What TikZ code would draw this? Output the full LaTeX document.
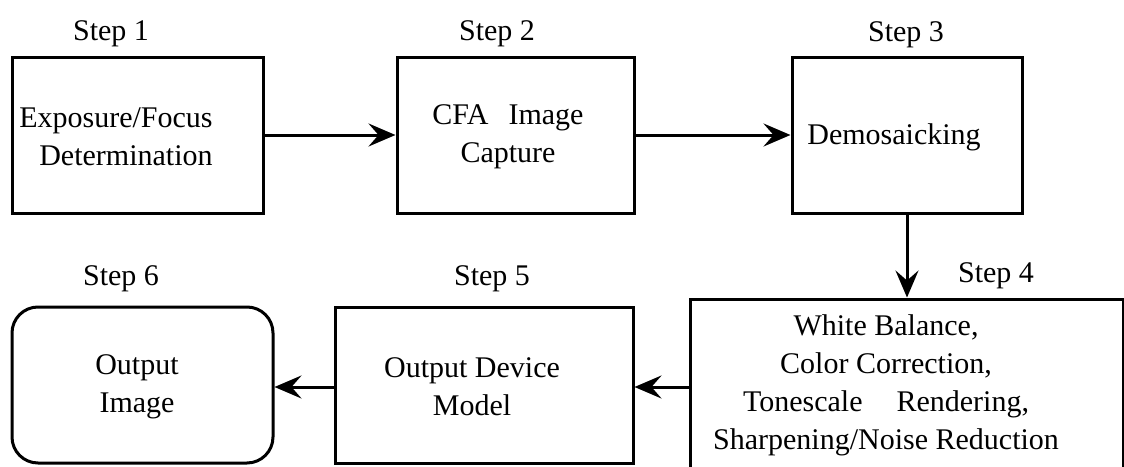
\documentclass[tikz,border=0pt]{standalone}
\usepackage{fontspec}
\setmainfont{Liberation Serif}
\usetikzlibrary{arrows.meta}

\begin{document}
\begin{tikzpicture}[
    x=0.5pt, y=-0.5pt,
    box_style/.style={draw, line width=1.5pt, minimum height=78pt},
    text_style/.style={font=\fontsize{15}{19}\selectfont, align=center, inner sep=0pt},
    step_style/.style={font=\fontsize{15}{18}\selectfont, anchor=base, inner sep=0pt},
    arrow_style/.style={-{Stealth[length=13.5pt, width=11.5pt, inset=5pt]}, line width=1.5pt}
]

    \clip (0,0) rectangle (1124,466);

    % Boxes
    \node[box_style, minimum width=125.5pt] (expo) at (137.5,135) {};
    \node[box_style, minimum width=118.5pt] (cfa) at (515.5,135) {};
    \node[box_style, minimum width=115pt] (demo) at (907,135) {};
    \node[box_style, minimum width=216.5pt, minimum height=90.5pt] (white) at (906.5,389.5) {};
    \node[box_style, minimum width=149pt] (outdev) at (484,385) {};
    \node[box_style, minimum width=130.5pt, rounded corners=13pt] (outimg) at (142.5,385) {};

    % Box texts
    \node[text_style, align=right, anchor=east] (expo_text) at (213,137) {Exposure/Focus\\Determination};
    \node[text_style] (cfa_text) at (508,137) {CFA\hspace{10pt}Image\\Capture};
    \node[text_style] (demo_text) at (894,137) {Demosaicking};
    \node[text_style] (white_text) at (886,385) {White Balance,\\Color Correction,\\Tonescale\hspace{17pt}Rendering,\\Sharpening/Noise Reduction};
    \node[text_style] (outdev_text) at (472,387) {Output Device\\Model};
    \node[text_style] (outimg_text) at (137,387) {Output\\Image};

    % Step labels
    \node[step_style] (step1) at (111,40) {Step 1};
    \node[step_style] (step2) at (497,40) {Step 2};
    \node[step_style] (step3) at (906,41) {Step 3};
    \node[step_style] (step4) at (996,282) {Step 4};
    \node[step_style] (step5) at (492,285) {Step 5};
    \node[step_style] (step6) at (121,285) {Step 6};

    % Arrows
    \draw[arrow_style] (expo) -- (cfa);
    \draw[arrow_style] (cfa) -- (demo);
    \draw[arrow_style] (demo.south) -- (demo.south |- white.north);
    \draw[arrow_style] (white.west |- 0,387) -- (outdev.east |- 0,387);
    \draw[arrow_style] (outdev.west |- 0,387) -- (outimg.east |- 0,387);

\end{tikzpicture}
\end{document}
